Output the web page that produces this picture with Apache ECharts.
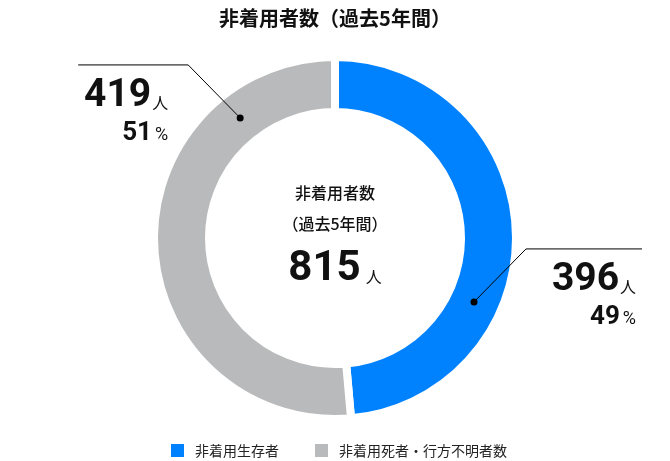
<!DOCTYPE html>
<html><head><meta charset="utf-8">
<script src="https://cdn.jsdelivr.net/npm/echarts@6/dist/echarts.min.js"></script>
<style>html,body{margin:0;padding:0;background:#fff}#c{width:670px;height:461px}</style>
</head><body><div id="c"></div>
<script>
const titleText = '非着用者数（過去5年間）';
const centerLines = ['非着用者数', '（過去5年間）'];
const unitText = '人';
const categories = ['非着用生存者', '非着用死者・行方不明者数'];
const values = [396, 419];
const colors = ['#0082FF', '#B9BABB'];

const total = values.reduce((a, b) => a + b, 0);
const percents = values.map(v => Math.round(v / total * 100));

const JP = '"Noto Sans CJK JP", "Noto Sans", sans-serif';
const NUM = 'Roboto, "Noto Sans", sans-serif';
const CX = 335, CY = 238;
const R_IN = 126, R_OUT = 181, R_DOT = 153;
const leaderAngles = [114.7, 321.7];   // deg clockwise from 12 o'clock
const dirs = [1, -1];
const tailLen = [116, 110];

function leader(i) {
  const a = leaderAngles[i] * Math.PI / 180;
  const dot = [CX + R_DOT * Math.sin(a), CY - R_DOT * Math.cos(a)];
  const elbow = [dot[0] + dirs[i] * 52, dot[1] - 53];
  const end = [elbow[0] + dirs[i] * tailLen[i], elbow[1]];
  return { dot, elbow, end };
}

const chart = echarts.init(document.getElementById('c'), null, { renderer: 'canvas' });

const leaders = [];
values.forEach((v, i) => {
  const L = leader(i);
  leaders.push({ type: 'polyline', shape: { points: [L.dot, L.elbow, L.end] }, style: { stroke: '#000', lineWidth: 1, fill: null }, z: 100 });
  leaders.push({ type: 'circle', shape: { cx: L.dot[0], cy: L.dot[1], r: 3.5 }, style: { fill: '#000' }, z: 101 });
});

chart.setOption({
  animation: false,
  backgroundColor: '#fff',
  title: {
    text: titleText, left: 'center', top: 3,
    textStyle: { fontFamily: JP, fontSize: 20, fontWeight: 'bold', color: '#111' }
  },
  legend: {
    data: categories, left: 164, top: 437, icon: 'rect',
    itemWidth: 15, itemHeight: 15, itemGap: 34,
    textStyle: { fontFamily: JP, fontSize: 14, color: '#222', padding: [0, 0, 0, 5] }
  },
  graphic: [
    { type: 'text', left: 'center', top: 185, style: { text: centerLines[0], font: '500 16px ' + JP, fill: '#111', textAlign: 'center' } },
    { type: 'text', left: 'center', top: 216, style: { text: centerLines[1], font: '500 16px ' + JP, fill: '#111', textAlign: 'center' } },
    { type: 'text', x: CX, y: 248, style: {
        text: '{n|' + total + '}{u|' + unitText + '}', textAlign: 'center',
        rich: {
          n: { fontFamily: NUM, fontWeight: 'bold', fontSize: 42, lineHeight: 42, fill: '#111' },
          u: { fontFamily: JP, fontSize: 16, lineHeight: 42, fill: '#111', padding: [16, 0, 0, 5] }
        }
    } }
  ].concat(leaders),
  series: [{
    type: 'pie',
    center: [CX, CY],
    radius: [R_IN, R_OUT],
    startAngle: 90,
    clockwise: true,
    avoidLabelOverlap: false,
    emphasis: { disabled: true },
    itemStyle: { borderColor: '#fff', borderWidth: 8 },
    data: categories.map((c, i) => ({ name: c, value: values[i], itemStyle: { color: colors[i] } })),
    label: {
      show: true, position: 'outside',
      formatter: p => '{n|' + p.value + '}{u|' + unitText + '}\n{p|' + percents[p.dataIndex] + '}{pu|%}',
      rich: {
        n: { fontFamily: NUM, fontWeight: 'bold', fontSize: 39, lineHeight: 40, color: '#111' },
        u: { fontFamily: JP, fontSize: 16, lineHeight: 40, color: '#111', padding: [14, 0, 0, 1] },
        p: { fontFamily: NUM, fontWeight: 'bold', fontSize: 26, lineHeight: 36, color: '#111' },
        pu: { fontFamily: NUM, fontSize: 18, lineHeight: 36, color: '#111', padding: [4, 0, 0, 3] }
      }
    },
    labelLine: { show: false },
    labelLayout: function (p) {
      const i = p.dataIndex;
      const L = leader(i);
      const x = i === 0 ? L.end[0] - 6 : L.elbow[0] - 20;
      return { x: x, y: L.elbow[1] + 11, align: 'right', verticalAlign: 'top' };
    }
  }]
});
</script></body></html>
